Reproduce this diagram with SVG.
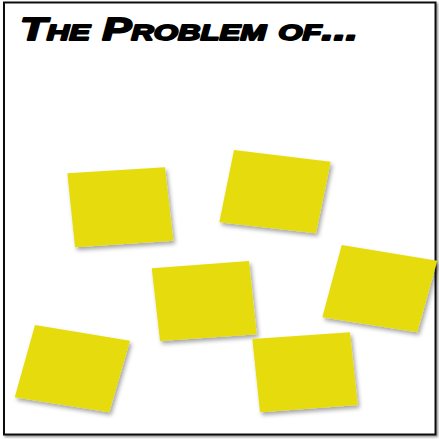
<svg xmlns="http://www.w3.org/2000/svg" width="439" height="439" viewBox="0 0 439 439">
  <style>
    .note { fill: #e6dc0e; filter: url(#shadow); }
    .frame { fill: #ffffff; stroke: #111111; stroke-width: 2; filter: url(#frameShadow); }
    .title { font-family: "Liberation Sans", "DejaVu Sans", sans-serif; font-weight: bold; font-style: italic; font-size: 31px; font-variant: small-caps; fill: #000000; stroke: #000000; stroke-width: 1.8; stroke-linejoin: round; }
  </style>
  <defs>
    <filter id="shadow" x="-20%" y="-20%" width="140%" height="150%">
      <feDropShadow dx="2" dy="3" stdDeviation="2" flood-color="#000000" flood-opacity="0.35"/>
    </filter>
    <filter id="frameShadow" x="-5%" y="-5%" width="110%" height="110%">
      <feDropShadow dx="1.5" dy="1.5" stdDeviation="1" flood-color="#000000" flood-opacity="0.45"/>
    </filter>
  </defs>
  <rect class="frame" x="4" y="2.5" width="431.5" height="432"/>
  <g id="title">
    <text class="title" x="20" y="40" textLength="338" lengthAdjust="spacingAndGlyphs">The Problem of...</text>
  </g>
  <g id="note1"><polygon class="note" points="67.3,173.3 165,167.3 173.3,240.7 75,247.3"/></g>
  <g id="note2"><polygon class="note" points="234,150 330.7,161.7 316,233.3 219.3,222.3"/></g>
  <g id="note3"><polygon class="note" points="151.7,268.3 249,261 256.7,334.3 160,341"/></g>
  <g id="note4"><polygon class="note" points="341.7,245 437.3,260.7 417.3,332.3 322.3,317.3"/></g>
  <g id="note5"><polygon class="note" points="252.3,339 350,332.3 357.7,405 260,412.3"/></g>
  <g id="note6"><polygon class="note" points="35,325 130,340.7 109.3,412.3 14.7,397.3"/></g>
</svg>
